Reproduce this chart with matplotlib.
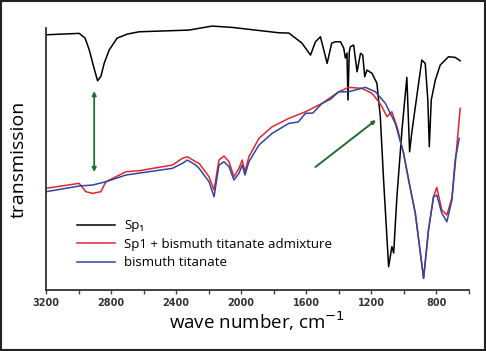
import matplotlib
matplotlib.use("Agg")
import matplotlib.pyplot as plt
from matplotlib.patches import Rectangle
from matplotlib.ticker import MultipleLocator

# Sp1
wn_sp1 = [3200, 2996, 2960, 2934, 2905, 2883, 2862, 2842, 2812, 2763, 2700, 2628, 2321, 2180, 2057,
          1769, 1707, 1627, 1574, 1544, 1513, 1472, 1444, 1421, 1390, 1370, 1360, 1350, 1344,
          1336, 1329, 1309, 1288, 1267, 1253, 1241, 1227, 1196, 1166, 1145, 1125, 1094, 1074,
          1063, 1043, 1012, 982, 965, 951, 890, 869, 853, 844, 832, 807, 777, 726, 685, 654]
t_sp1 = [255.3, 256.7, 252, 240, 222, 209.3, 214, 227, 240, 252, 256, 258.3, 260, 264, 262.7,
         257.3, 257, 247, 235, 248.3, 253.3, 226.7, 247, 248.3, 248.3, 242, 232, 237, 190,
         238, 243.3, 245, 218.3, 236.7, 235, 213.3, 220, 216.7, 206.7, 173.3, 110, 23.3, 43.3,
         37, 93.3, 160, 212.7, 138.3, 158.3, 230, 226.7, 190, 143.3, 190, 210, 225, 233.3, 232.7, 229.3]

# Sp1 + bismuth titanate admixture
wn_mix = [3200, 2996, 2955, 2914, 2863, 2832, 2709, 2628, 2423, 2362, 2331, 2280, 2259,
          2198, 2167, 2137, 2106, 2075, 2045, 2014, 1994, 1977, 1953, 1891, 1810, 1707,
          1605, 1503, 1401, 1339, 1258, 1196, 1155, 1135, 1104, 1074, 1040, 1002, 971,
          930, 879, 849, 818, 798, 767, 736, 705, 685, 654]
t_mix = [101.7, 106.7, 98.3, 96.7, 98.3, 108.3, 118.3, 119.3, 125, 131.7, 133.3, 128.3, 126.7,
         113.3, 100, 130, 134, 128.3, 113.3, 121.7, 130, 118.3, 133.3, 151.7, 163.3, 171.7,
         178.3, 186.7, 198.3, 202.7, 201.7, 196.7, 188.3, 183.3, 173.3, 178.3, 162, 136.7, 110,
         76.7, 11.7, 60, 93.3, 102.7, 80, 75, 92, 125, 181.7]

# bismuth titanate
wn_bt = [3200, 2996, 2914, 2832, 2709, 2423, 2362, 2331, 2280, 2259, 2198, 2167, 2137,
         2106, 2075, 2045, 2014, 1994, 1977, 1953, 1891, 1810, 1707, 1650, 1605, 1560,
         1503, 1450, 1401, 1339, 1237, 1175, 1114, 1053, 1002, 971, 930, 879, 849, 818,
         798, 767, 736, 705, 685, 660]
t_bt = [98.3, 104, 105, 108.3, 115, 121.7, 126.7, 130, 125, 121.7, 108.3, 93.3, 125,
        128.3, 123.3, 110, 116.7, 125, 115, 128.3, 145, 156.7, 166.7, 168, 176.7, 177,
        186.7, 191, 198.3, 198.3, 202.7, 198.3, 186.7, 166.7, 136.7, 110, 76.7, 11.7, 60, 93.3,
        95, 76.7, 68.3, 90, 130, 151.7]

labels = ["Sp₁", "Sp1 + bismuth titanate admixture", "bismuth titanate"]

fig = plt.figure(figsize=(4.86, 3.51), dpi=100)
ax = fig.add_axes([0.0947, 0.1738, 0.8703, 0.7462])

ax.plot(wn_sp1, t_sp1, color="black", lw=1.1, label=labels[0], clip_on=False)
ax.plot(wn_mix, t_mix, color="#e3262b", lw=1.1, label=labels[1])
ax.plot(wn_bt, t_bt, color="#2f45a3", lw=1.1, label=labels[2])

# green arrows
ax.annotate("", xy=(2904, 118), xytext=(2904, 199),
            arrowprops=dict(arrowstyle="<|-|>", color="#1f6e30", lw=1.3,
                            mutation_scale=6, shrinkA=0, shrinkB=0))
ax.annotate("", xy=(1172, 170), xytext=(1544, 123),
            arrowprops=dict(arrowstyle="-|>", color="#1f6e30", lw=1.4,
                            mutation_scale=5, shrinkA=0, shrinkB=0))

ax.set_xlim(3200, 600)
ax.set_ylim(0, 262)
ax.xaxis.set_major_locator(MultipleLocator(400))
ax.xaxis.set_minor_locator(MultipleLocator(200))
ax.set_yticks([])
ax.tick_params(axis="x", which="both", direction="out", length=3, width=1, color="#444444",
               labelsize=7, labelcolor="#333333", pad=3)
for lbl in ax.get_xticklabels():
    lbl.set_fontweight("bold")
for s in ["top", "right"]:
    ax.spines[s].set_visible(False)
for s in ["left", "bottom"]:
    ax.spines[s].set_linewidth(1.3)
    ax.spines[s].set_color("#333333")

ax.set_xlabel("wave number, cm$^{-1}$", fontsize=13.5, family="Open Sans", labelpad=1)
ax.set_ylabel("transmission", fontsize=14, family="Open Sans", labelpad=13)

ax.legend(loc="upper left", bbox_to_anchor=(0.073, 0.27), frameon=False,
          handlelength=2.9, handletextpad=0.7, labelspacing=0.42,
          borderpad=0, borderaxespad=0,
          prop={"family": "Open Sans", "size": 9.5})

fig.patches.append(Rectangle((0.002, 0.003), 0.995, 0.994, transform=fig.transFigure,
                             fill=False, edgecolor="#222222", lw=1.5))

fig.savefig("out.png", dpi=100)
